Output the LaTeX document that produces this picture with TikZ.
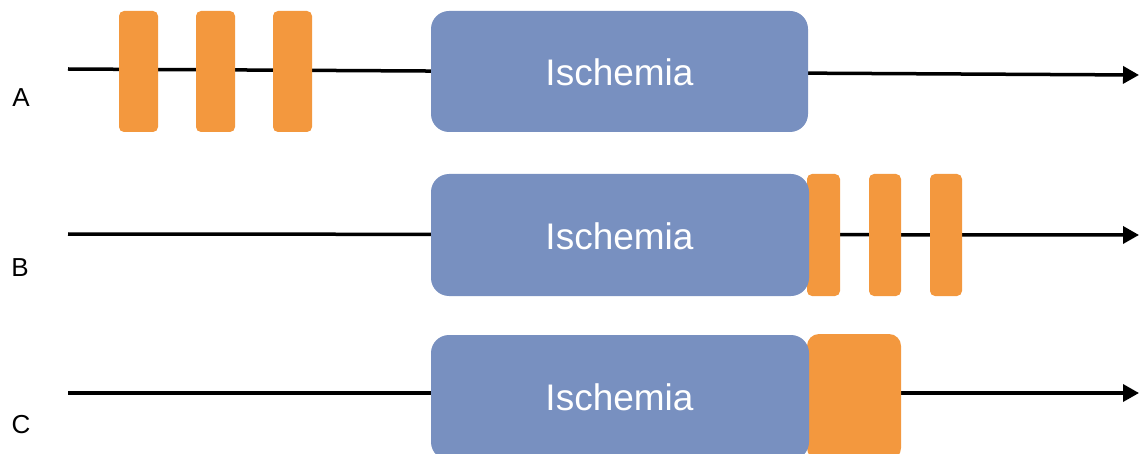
\documentclass[tikz,border=0pt]{standalone}
\usepackage{fontspec}
\setmainfont{Liberation Sans}
\usetikzlibrary{arrows.meta}
\definecolor{ischblue}{RGB}{120,144,192}
\definecolor{pulseorange}{RGB}{243,152,62}
\tikzset{
  x=1pt, y=-1pt,
  timeline/.style={line width=3.5pt, -{Triangle[length=16pt,width=17pt]}},
  ischbox/.style={fill=ischblue, rounded corners=18pt, inner sep=0pt},
  pulse/.style={fill=pulseorange, rounded corners=5pt, inner sep=0pt},
  block/.style={fill=pulseorange, rounded corners=12pt, inner sep=0pt},
  rowlabel/.style={font=\fontsize{26}{30}\selectfont, anchor=center},
  boxtext/.style={text=white, font=\fontsize{37}{44}\selectfont}
}
\begin{document}
\begin{tikzpicture}
\useasboundingbox (0,0) rectangle (1139,454);
\clip (0,0) rectangle (1139,454);

% time axes (drawn first so the boxes sit on top)
\coordinate (startA) at (68,69);
\coordinate (endA) at (1139,75);
\coordinate (startB) at (68,234);
\coordinate (endB) at (1139,235);
\coordinate (startC) at (68,393);
\coordinate (endC) at (1139,393);
\draw[timeline] (startA) -- (endA);
\draw[timeline] (startB) -- (endB);
\draw[timeline] (startC) -- (endC);

% row A: conditioning pulses before ischemia
\path[pulse] (119,11) rectangle (158,132);
\path[pulse] (196,11) rectangle (235,132);
\path[pulse] (273,11) rectangle (312,132);
\path[ischbox] (431,11) rectangle (808,132);
\node[boxtext] (ischA) at (619.5,72) {Ischemia};

% row B: conditioning pulses after ischemia
\path[pulse] (807,174) rectangle (840,296);
\path[pulse] (869,174) rectangle (901,296);
\path[pulse] (930,174) rectangle (962,296);
\path[ischbox] (431,174) rectangle (809,296);
\node[boxtext] (ischB) at (619.5,236) {Ischemia};

% row C: single block after ischemia
\path[block] (807,334) rectangle (901,460);
\path[ischbox] (431,335) rectangle (809,460);
\node[boxtext] (ischC) at (619.5,397) {Ischemia};

% row labels
\node[rowlabel] (labA) at (21,98) {A};
\node[rowlabel] (labB) at (20,268) {B};
\node[rowlabel] (labC) at (21,425) {C};
\end{tikzpicture}
\end{document}
